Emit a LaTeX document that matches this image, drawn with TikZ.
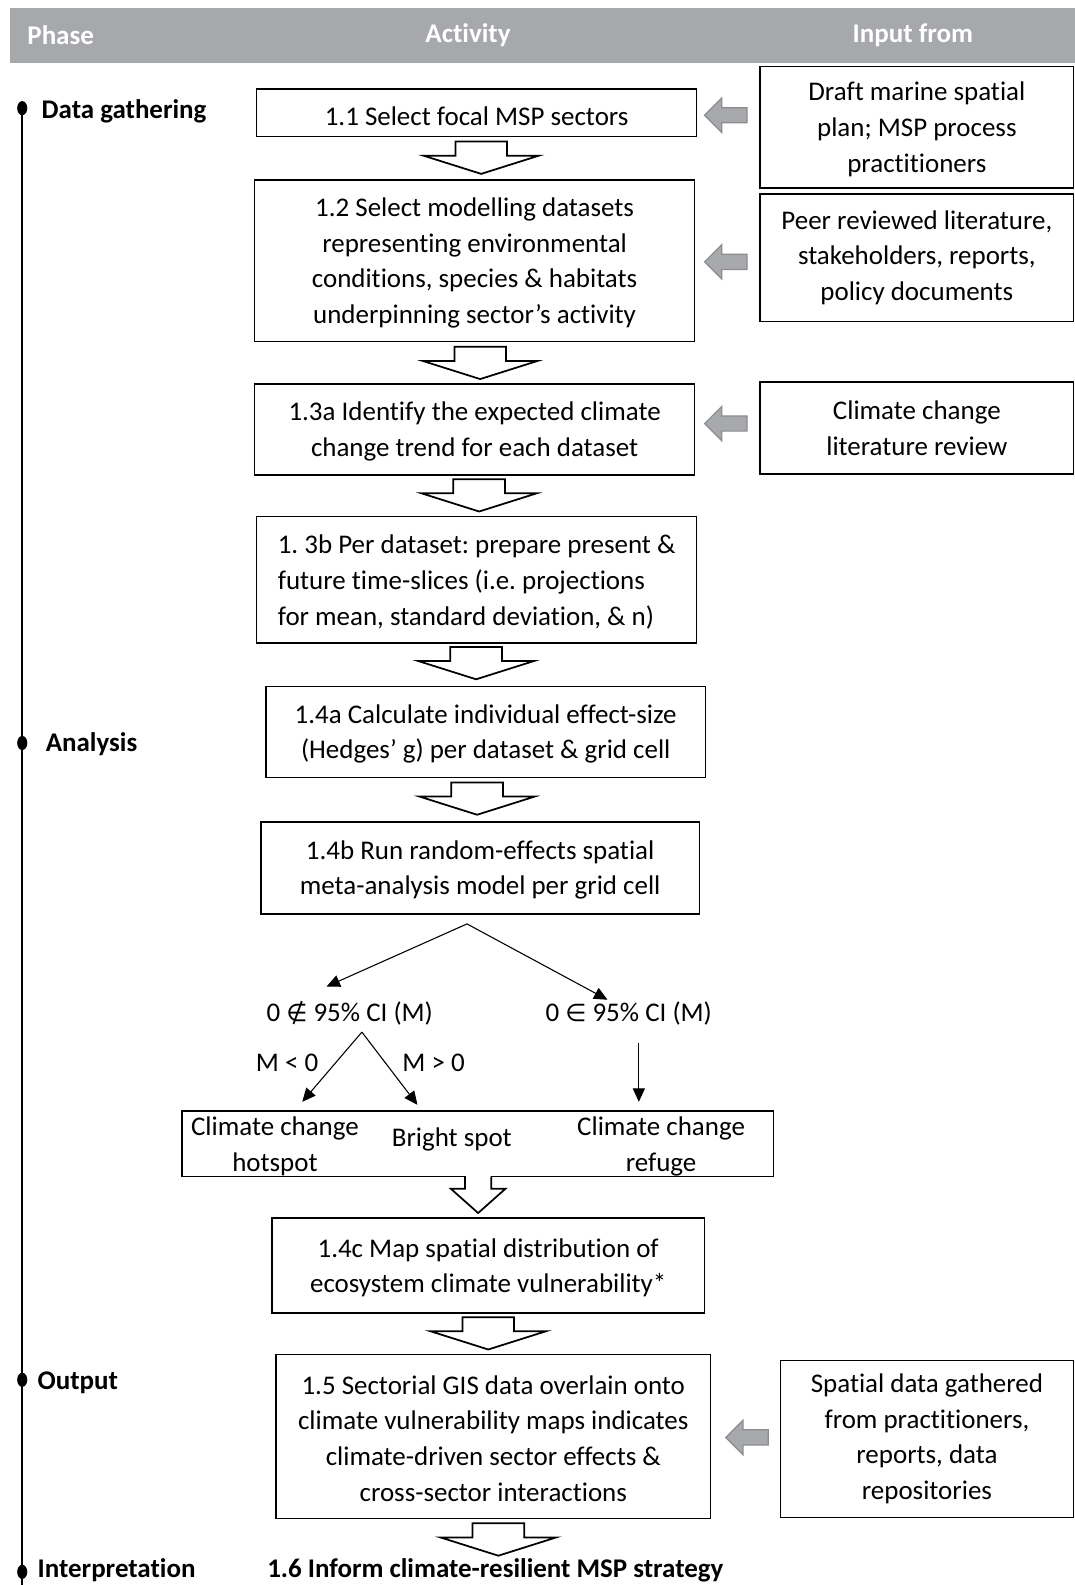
\documentclass[tikz,border=0pt]{standalone}
\usepackage{fontspec}
\setmainfont{Carlito}[Ligatures={NoCommon}]
\newfontfamily\symf{DejaVu Sans}
\usetikzlibrary{arrows.meta,calc}
\definecolor{hdr}{HTML}{A6A8AB}
\definecolor{arrgray}{HTML}{A7A9AC}
\definecolor{arrgrayd}{HTML}{8A8C8E}
\newcommand\fs{\fontsize{20}{26.5}\selectfont}
\frenchspacing
\begin{document}
\begin{tikzpicture}[x=0.75pt,y=-0.75pt,
  every node/.style={font=\fs, inner sep=0pt},
  box/.style={draw, line width=1.1pt, inner sep=0pt, align=center},
  rectbox/.style n args={4}{box, at={({(#1+#3)/2},{(#2+#4)/2})},
    minimum width={(#3-#1)*0.75pt}, minimum height={(#4-#2)*0.75pt}},
  hollow/.style={draw, line width=1.3pt, fill=white, line join=miter},
  grayarr/.style={fill=arrgray, draw=arrgrayd, line width=0.9pt},
  thinarr/.style={line width=0.8pt, -{Triangle[length=10pt,width=9pt]}},
  hdrtext/.style={font=\fs\bfseries, text=white},
  phase/.style={font=\fs\bfseries, anchor=west},
  bigarrow/.pic={\path[hollow] (-25.5,0) -- (25.5,0) -- (25.5,14) -- (57,14) -- (0,32) -- (-57,14) -- (-25.5,14) -- cycle;},
  grayarrow/.pic={\path[grayarr] (0,0) -- (17,-17) -- (17,-7.5) -- (42,-7.5) -- (42,7.5) -- (17,7.5) -- (17,17) -- cycle;}
]
\useasboundingbox (0,0) rectangle (1063,1568);
\fill[white] (0,0) rectangle (1063,1568);

% header
\node[rectbox={10}{8}{1063}{62}, draw=none, fill=hdr] (header) {};
\node[hdrtext] (hphase) at (60,35) {Phase};
\node[hdrtext] (hact) at (463,35) {Activity};
\node[hdrtext] (hinput) at (903,35) {Input from};

% timeline
\coordinate (tl0) at (22,107);
\coordinate (tl1) at (22,1568);
\draw[line width=1.8pt] (tl0) -- (tl1);
\foreach \yy in {107,735,1365,1555}{
  \fill (22,\yy) ellipse [x radius=5, y radius=7];
}
\node[phase] (pdata) at (41,110) {Data gathering};
\node[phase] (pana) at (45,736) {Analysis};
\node[phase] (pout) at (37,1368) {Output};
\node[phase] (pint) at (37,1553) {Interpretation};

% activity boxes
\node[rectbox={254}{88}{689}{135}] (b11) {\rule{0pt}{19pt}1.1 Select focal MSP sectors};
\node[rectbox={252}{178}{687}{338}] (b12) {\rule{0pt}{17pt}1.2 Select modelling datasets\\representing environmental\\conditions, species \& habitats\\underpinning sector’s activity};
\node[rectbox={252}{380}{687}{470}] (b13a) {\rule{0pt}{17pt}1.3a Identify the expected climate\\change trend for each dataset};
\node[rectbox={254}{511}{689}{636}, align=left] (b13b) {\rule{0pt}{17pt}1. 3b Per dataset: prepare present \&\\future time-slices (i.e. projections\\for mean, standard deviation, \& n)};
\node[rectbox={263}{679}{698}{769}] (b14a) {\rule{0pt}{17pt}1.4a Calculate individual effect-size\\(Hedges’ g) per dataset \& grid cell};
\node[rectbox={258}{813}{692}{904}] (b14b) {\rule{0pt}{17pt}1.4b Run random-effects spatial\\meta-analysis model per grid cell};
\node[rectbox={180}{1099}{765}{1164}] (res) {};
\node[rectbox={269}{1205}{697}{1299}] (b14c) {\rule{0pt}{17pt}1.4c Map spatial distribution of\\ecosystem climate vulnerability*};
\node[rectbox={273}{1340}{703}{1502}] (b15) {\rule{0pt}{17pt}1.5 Sectorial GIS data overlain onto\\climate vulnerability maps indicates\\climate-driven sector effects \&\\cross-sector interactions};
\node[font=\fs\bfseries] (b16) at (490,1553) {1.6 Inform climate-resilient MSP strategy};

% input boxes
\node[rectbox={752}{66}{1062}{186}] (r1) {\rule{0pt}{17pt}Draft marine spatial\\plan; MSP process\\practitioners};
\node[rectbox={752}{192}{1062}{318}] (r2) {Peer reviewed literature,\\stakeholders, reports,\\policy documents};
\node[rectbox={752}{378}{1062}{469}] (r3) {Climate change\\literature review};
\node[rectbox={772}{1346}{1062}{1501}] (r4) {Spatial data gathered\\from practitioners,\\reports, data\\repositories};

% result texts
\node[align=center] (hot) at (272,1134) {Climate change\\hotspot};
\node (bright) at (447,1127) {Bright spot};
\node[align=center] (refuge) at (654,1134) {Climate change\\refuge};

% branch labels
\node (ci1) at (346,1002) {0 {\symf\fontsize{18}{20}\selectfont ∉} 95\% CI (M)};
\node (ci2) at (622,1003) {0 {\symf\fontsize{18}{20}\selectfont ∈} 95\% CI (M)};
\node (mneg) at (284,1051) {M < 0};
\node (mpos) at (429,1051) {M > 0};

% branch connectors
\coordinate (apex) at (462,914);
\coordinate (tipL) at (323,976);
\coordinate (tipR) at (601,989);
\coordinate (fork) at (358,1021);
\coordinate (tipHot) at (299,1090);
\coordinate (tipBright) at (413,1093);
\coordinate (refTop) at (632,1032);
\coordinate (tipRef) at (632,1090);
\draw[thinarr] (apex) -- (tipL);
\draw[thinarr] (apex) -- (tipR);
\draw[thinarr] (fork) -- (tipHot);
\draw[thinarr] (fork) -- (tipBright);
\draw[thinarr] (refTop) -- (tipRef);

% hollow block arrows
\pic at (476,140) {bigarrow};
\pic at (475,343) {bigarrow};
\pic at (474,474) {bigarrow};
\pic at (471,640) {bigarrow};
\pic at (472,774) {bigarrow};
\pic at (483,1303) {bigarrow};
\pic at (493,1507) {bigarrow};
% narrow arrow out of result box
\fill[white] (460.6,1162) rectangle (485.4,1166.5);
\draw[line width=1.3pt, line join=miter] (460,1164) -- (460,1176) -- (446,1176) -- (473,1200) -- (500,1176) -- (486,1176) -- (486,1164);

% gray input arrows
\pic at (697,114) {grayarrow};
\pic at (697,259) {grayarrow};
\pic at (697,419) {grayarrow};
\pic at (718,1422) {grayarrow};
\end{tikzpicture}
\end{document}
